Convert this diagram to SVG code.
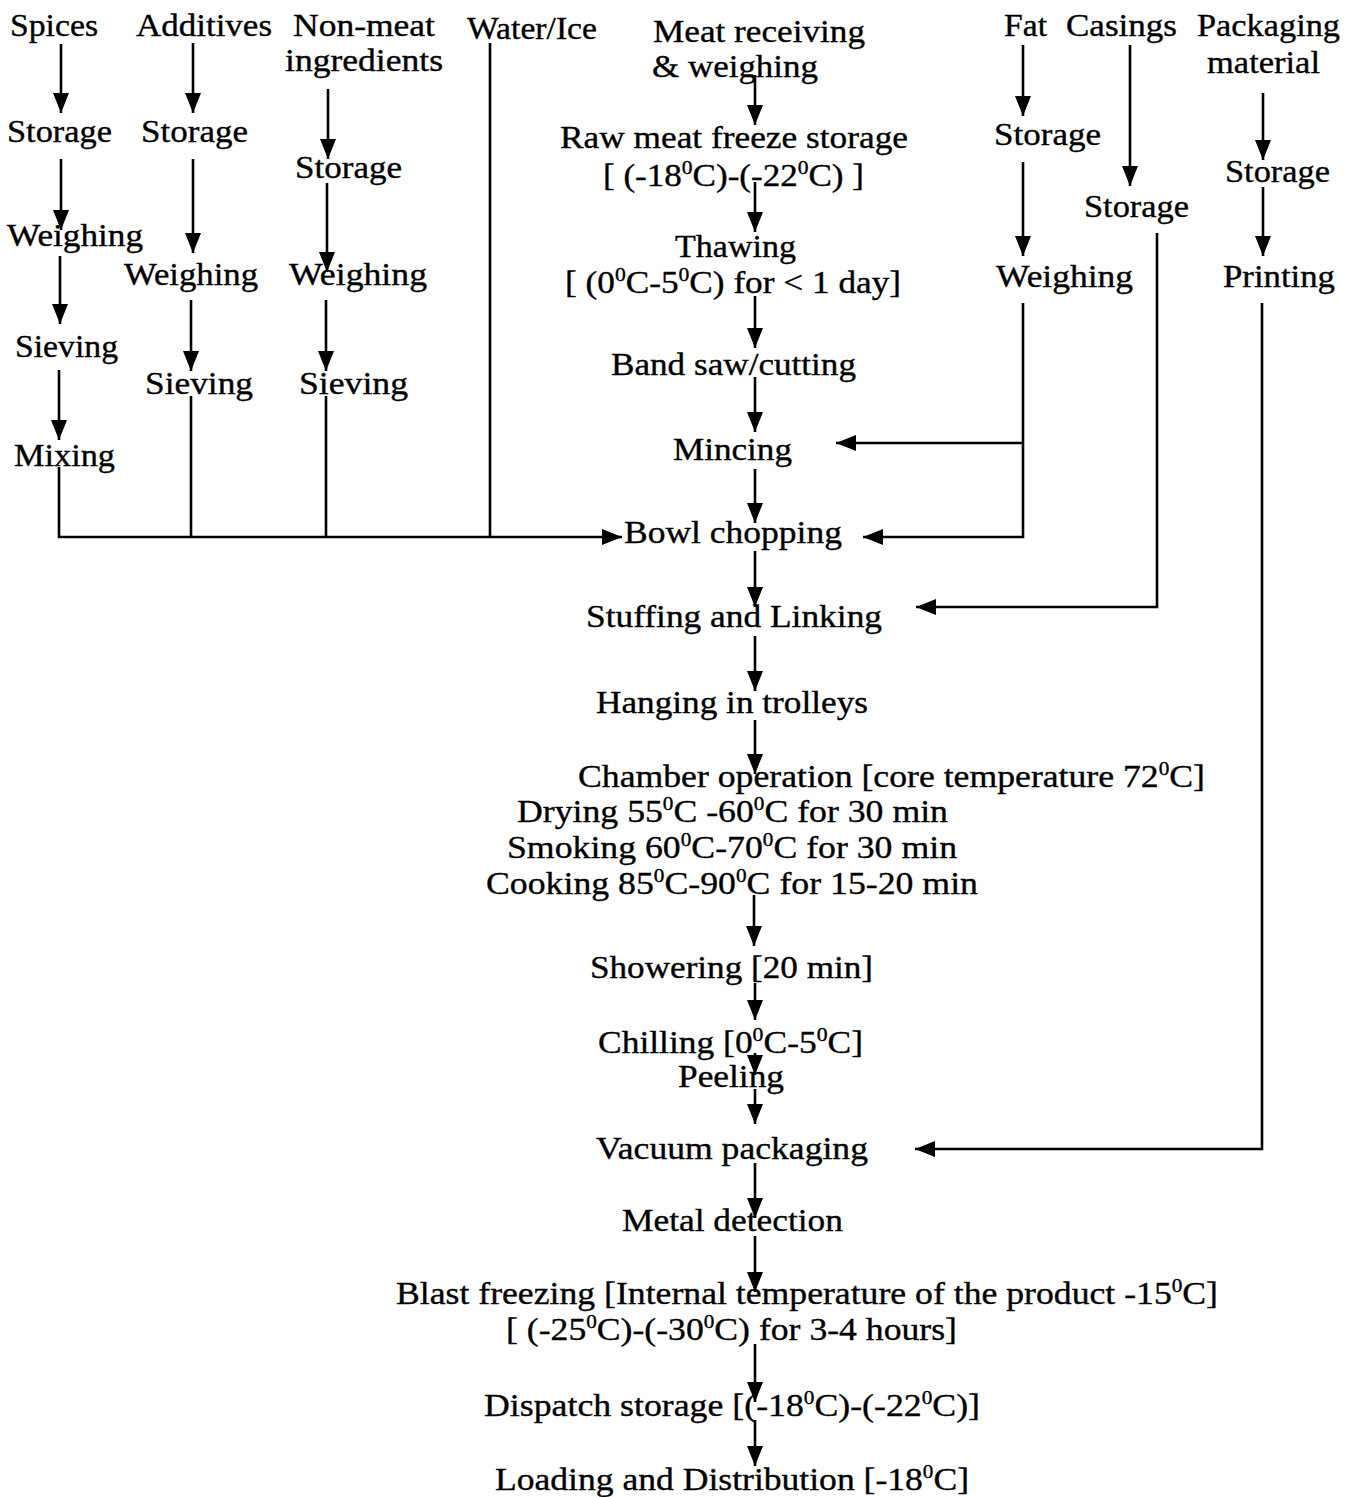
<svg xmlns="http://www.w3.org/2000/svg" width="1346" height="1497" viewBox="0 0 1346 1497">
  <style>
    text { font-family: "Liberation Serif", "DejaVu Serif", serif; font-size: 31px; fill: #000; stroke: #000; stroke-width: 0.35; }
    text.cond { font-size: 32px; }
    .sup { font-size: 19px; }
    .ln { stroke: #000; stroke-width: 2.6; fill: none; }
    .ar { stroke: #000; stroke-width: 2.6; fill: none; marker-end: url(#head); }
  </style>
  <defs>
    <marker id="head" viewBox="0 0 20 16" refX="20" refY="8" markerWidth="20" markerHeight="16" markerUnits="userSpaceOnUse" orient="auto">
      <path d="M0,0 L20,8 L0,16 z" fill="#000"/>
    </marker>
  </defs>
  <rect width="1346" height="1497" fill="#fff"/>

  <!-- Connectors -->
  <g id="connectors">
    <!-- spices column -->
    <line class="ar" x1="61" y1="44" x2="61" y2="113"/>
    <line class="ar" x1="61" y1="159" x2="61" y2="230"/>
    <line class="ar" x1="60" y1="256" x2="60" y2="324"/>
    <line class="ar" x1="59" y1="370" x2="59" y2="440"/>
    <!-- additives column -->
    <line class="ar" x1="193" y1="43" x2="193" y2="113"/>
    <line class="ar" x1="193" y1="159" x2="193" y2="253"/>
    <line class="ar" x1="191" y1="300" x2="191" y2="371"/>
    <line class="ln" x1="191" y1="396" x2="191" y2="537"/>
    <!-- non-meat column -->
    <line class="ar" x1="328" y1="89" x2="328" y2="159"/>
    <line class="ar" x1="327" y1="183" x2="327" y2="272"/>
    <line class="ar" x1="326" y1="300" x2="326" y2="371"/>
    <line class="ln" x1="326" y1="396" x2="326" y2="537"/>
    <!-- water/ice -->
    <line class="ln" x1="490" y1="43" x2="490" y2="537"/>
    <!-- collector into bowl chopping -->
    <path class="ar" d="M59,467 V537 H622"/>

    <!-- main process column -->
    <line class="ar" x1="755" y1="75" x2="755" y2="125"/>
    <line class="ar" x1="755" y1="182" x2="755" y2="232"/>
    <line class="ar" x1="755" y1="296" x2="755" y2="348"/>
    <line class="ar" x1="755" y1="377" x2="755" y2="432"/>
    <line class="ar" x1="755" y1="469" x2="755" y2="523"/>
    <line class="ar" x1="755" y1="551" x2="755" y2="607"/>
    <line class="ar" x1="755" y1="636" x2="755" y2="691"/>
    <line class="ar" x1="755" y1="720" x2="755" y2="774"/>
    <line class="ar" x1="754" y1="895" x2="754" y2="946"/>
    <line class="ar" x1="755" y1="983" x2="755" y2="1020"/>
    <line class="ar" x1="755" y1="1053" x2="755" y2="1075"/>
    <line class="ar" x1="755" y1="1089" x2="755" y2="1124"/>
    <line class="ar" x1="755" y1="1163" x2="755" y2="1218"/>
    <line class="ar" x1="755" y1="1236" x2="755" y2="1292"/>
    <line class="ar" x1="755" y1="1344" x2="755" y2="1402"/>
    <line class="ar" x1="755" y1="1420" x2="755" y2="1466"/>

    <!-- fat column -->
    <line class="ar" x1="1023" y1="45" x2="1023" y2="116"/>
    <line class="ar" x1="1023" y1="162" x2="1023" y2="256"/>
    <path class="ar" d="M1023,303 V537 H863"/>
    <path class="ar" d="M1023,443 H836"/>
    <!-- casings column -->
    <line class="ar" x1="1130" y1="45" x2="1130" y2="186"/>
    <path class="ar" d="M1157,233 V607 H916"/>
    <!-- packaging column -->
    <line class="ar" x1="1263" y1="93" x2="1263" y2="160"/>
    <line class="ar" x1="1263" y1="187" x2="1263" y2="256"/>
    <path class="ar" d="M1262,303 V1149 H915"/>
  </g>

  <!-- Ingredient streams -->
  <g id="spices">
    <text x="10" y="36" textLength="88" lengthAdjust="spacingAndGlyphs">Spices</text>
  </g>
  <g id="spices-storage"><text x="7" y="142" textLength="105" lengthAdjust="spacingAndGlyphs">Storage</text></g>
  <g id="spices-weighing"><text x="7" y="246" textLength="136" lengthAdjust="spacingAndGlyphs">Weighing</text></g>
  <g id="spices-sieving"><text x="15" y="357" textLength="103" lengthAdjust="spacingAndGlyphs">Sieving</text></g>
  <g id="spices-mixing"><text x="14" y="466" textLength="101" lengthAdjust="spacingAndGlyphs">Mixing</text></g>

  <g id="additives"><text x="136" y="36" textLength="136" lengthAdjust="spacingAndGlyphs">Additives</text></g>
  <g id="additives-storage"><text x="141" y="142" textLength="107" lengthAdjust="spacingAndGlyphs">Storage</text></g>
  <g id="additives-weighing"><text x="124" y="285" textLength="134" lengthAdjust="spacingAndGlyphs">Weighing</text></g>
  <g id="additives-sieving"><text x="145" y="394" textLength="108" lengthAdjust="spacingAndGlyphs">Sieving</text></g>

  <g id="non-meat">
    <text x="293" y="36" textLength="142" lengthAdjust="spacingAndGlyphs">Non-meat</text>
    <text x="285" y="71" textLength="158" lengthAdjust="spacingAndGlyphs">ingredients</text>
  </g>
  <g id="non-meat-storage"><text x="295" y="178" textLength="107" lengthAdjust="spacingAndGlyphs">Storage</text></g>
  <g id="non-meat-weighing"><text x="289" y="285" textLength="138" lengthAdjust="spacingAndGlyphs">Weighing</text></g>
  <g id="non-meat-sieving"><text x="299" y="394" textLength="109" lengthAdjust="spacingAndGlyphs">Sieving</text></g>

  <g id="water-ice"><text x="467" y="39" textLength="130" lengthAdjust="spacingAndGlyphs">Water/Ice</text></g>

  <g id="fat"><text x="1004" y="36" textLength="43" lengthAdjust="spacingAndGlyphs">Fat</text></g>
  <g id="fat-storage"><text x="994" y="145" textLength="107" lengthAdjust="spacingAndGlyphs">Storage</text></g>
  <g id="fat-weighing"><text x="996" y="287" textLength="137" lengthAdjust="spacingAndGlyphs">Weighing</text></g>

  <g id="casings"><text x="1066" y="36" textLength="111" lengthAdjust="spacingAndGlyphs">Casings</text></g>
  <g id="casings-storage"><text x="1084" y="217" textLength="105" lengthAdjust="spacingAndGlyphs">Storage</text></g>

  <g id="packaging-material">
    <text x="1197" y="36" textLength="143" lengthAdjust="spacingAndGlyphs">Packaging</text>
    <text x="1207" y="73" textLength="113" lengthAdjust="spacingAndGlyphs">material</text>
  </g>
  <g id="packaging-storage"><text x="1225" y="182" textLength="105" lengthAdjust="spacingAndGlyphs">Storage</text></g>
  <g id="printing"><text x="1223" y="287" textLength="112" lengthAdjust="spacingAndGlyphs">Printing</text></g>

  <!-- Main process line -->
  <g id="meat-receiving">
    <text x="653" y="42" textLength="212" lengthAdjust="spacingAndGlyphs">Meat receiving</text>
    <text x="652" y="77" textLength="166" lengthAdjust="spacingAndGlyphs">&amp; weighing</text>
  </g>
  <g id="freeze-storage">
    <text x="560" y="148" textLength="348" lengthAdjust="spacingAndGlyphs">Raw meat freeze storage</text>
    <text x="603" y="186" textLength="261" lengthAdjust="spacingAndGlyphs">[ (-18<tspan class="sup" dy="-12">0</tspan><tspan dy="12">C)-(-22</tspan><tspan class="sup" dy="-12">0</tspan><tspan dy="12">C) ]</tspan></text>
  </g>
  <g id="thawing">
    <text x="675" y="257" textLength="121" lengthAdjust="spacingAndGlyphs">Thawing</text>
    <text x="565" y="293" textLength="336" lengthAdjust="spacingAndGlyphs">[ (0<tspan class="sup" dy="-12">0</tspan><tspan dy="12">C-5</tspan><tspan class="sup" dy="-12">0</tspan><tspan dy="12">C) for &lt; 1 day]</tspan></text>
  </g>
  <g id="band-saw"><text x="611" y="375" textLength="245" lengthAdjust="spacingAndGlyphs">Band saw/cutting</text></g>
  <g id="mincing"><text x="673" y="460" textLength="119" lengthAdjust="spacingAndGlyphs">Mincing</text></g>
  <g id="bowl-chopping"><text x="624" y="543" textLength="218" lengthAdjust="spacingAndGlyphs">Bowl chopping</text></g>
  <g id="stuffing"><text x="586" y="627" textLength="296" lengthAdjust="spacingAndGlyphs">Stuffing and Linking</text></g>
  <g id="hanging"><text x="596" y="713" textLength="272" lengthAdjust="spacingAndGlyphs">Hanging in trolleys</text></g>
  <g id="chamber">
    <text class="cond" x="578" y="787" textLength="627" lengthAdjust="spacingAndGlyphs">Chamber operation [core temperature 72<tspan class="sup" dy="-12">0</tspan><tspan dy="12">C]</tspan></text>
    <text class="cond" x="517" y="822" textLength="431" lengthAdjust="spacingAndGlyphs">Drying 55<tspan class="sup" dy="-12">0</tspan><tspan dy="12">C -60</tspan><tspan class="sup" dy="-12">0</tspan><tspan dy="12">C for 30 min</tspan></text>
    <text class="cond" x="507" y="858" textLength="450" lengthAdjust="spacingAndGlyphs">Smoking 60<tspan class="sup" dy="-12">0</tspan><tspan dy="12">C-70</tspan><tspan class="sup" dy="-12">0</tspan><tspan dy="12">C for 30 min</tspan></text>
    <text class="cond" x="486" y="894" textLength="492" lengthAdjust="spacingAndGlyphs">Cooking 85<tspan class="sup" dy="-12">0</tspan><tspan dy="12">C-90</tspan><tspan class="sup" dy="-12">0</tspan><tspan dy="12">C for 15-20 min</tspan></text>
  </g>
  <g id="showering"><text x="590" y="978" textLength="283" lengthAdjust="spacingAndGlyphs">Showering [20 min]</text></g>
  <g id="chilling"><text x="598" y="1053" textLength="265" lengthAdjust="spacingAndGlyphs">Chilling [0<tspan class="sup" dy="-12">0</tspan><tspan dy="12">C-5</tspan><tspan class="sup" dy="-12">0</tspan><tspan dy="12">C]</tspan></text></g>
  <g id="peeling"><text x="678" y="1087" textLength="106" lengthAdjust="spacingAndGlyphs">Peeling</text></g>
  <g id="vacuum-packaging"><text x="596" y="1159" textLength="272" lengthAdjust="spacingAndGlyphs">Vacuum packaging</text></g>
  <g id="metal-detection"><text x="622" y="1231" textLength="221" lengthAdjust="spacingAndGlyphs">Metal detection</text></g>
  <g id="blast-freezing">
    <text class="cond" x="396" y="1304" textLength="822" lengthAdjust="spacingAndGlyphs">Blast freezing [Internal temperature of the product -15<tspan class="sup" dy="-12">0</tspan><tspan dy="12">C]</tspan></text>
    <text class="cond" x="506" y="1340" textLength="451" lengthAdjust="spacingAndGlyphs">[ (-25<tspan class="sup" dy="-12">0</tspan><tspan dy="12">C)-(-30</tspan><tspan class="sup" dy="-12">0</tspan><tspan dy="12">C) for 3-4 hours]</tspan></text>
  </g>
  <g id="dispatch-storage"><text class="cond" x="484" y="1416" textLength="496" lengthAdjust="spacingAndGlyphs">Dispatch storage [(-18<tspan class="sup" dy="-12">0</tspan><tspan dy="12">C)-(-22</tspan><tspan class="sup" dy="-12">0</tspan><tspan dy="12">C)]</tspan></text></g>
  <g id="loading"><text class="cond" x="495" y="1490" textLength="474" lengthAdjust="spacingAndGlyphs">Loading and Distribution [-18<tspan class="sup" dy="-12">0</tspan><tspan dy="12">C]</tspan></text></g>
</svg>
